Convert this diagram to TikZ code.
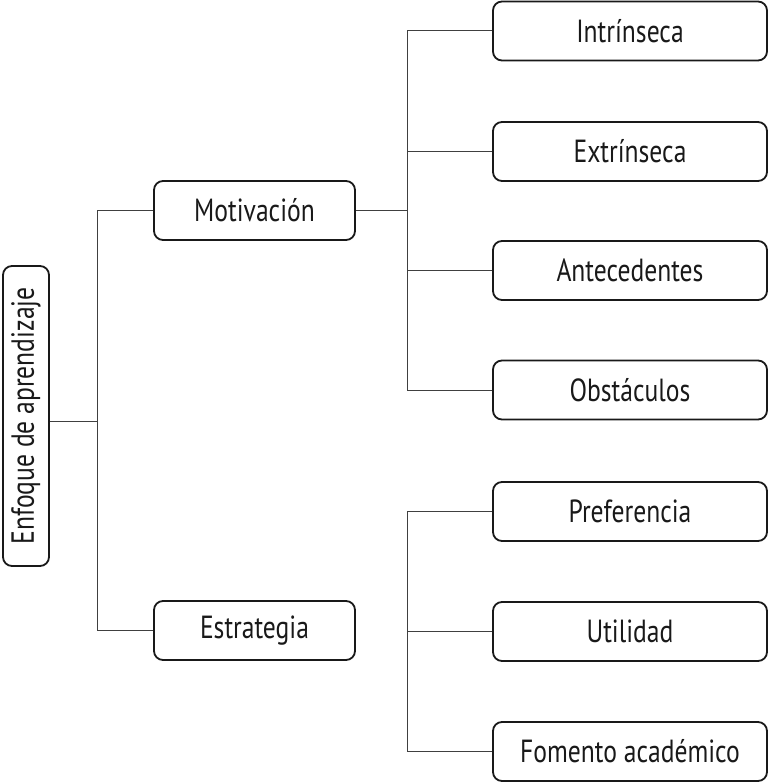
\documentclass[tikz,border=0pt]{standalone}
\usepackage{fontspec}
\setmainfont[FakeStretch=0.8]{PT Sans}
\begin{document}
\begin{tikzpicture}[x=1pt,y=-1pt,
  box/.style={draw=black!90, line width=1.8pt, rounded corners=9pt, inner sep=0pt, font=\fontsize{32}{34}\selectfont, text=black!90},
  sbox/.style={box, minimum width=201, minimum height=59},
  rbox/.style={box, minimum width=274, minimum height=59},
  conn/.style={draw=black!75, line width=1pt}]
\useasboundingbox (0,0) rectangle (769,783);
\node[box, minimum width=46, minimum height=300] (root) at (26,416) {\rotatebox{90}{Enfoque de aprendizaje}};
\node[sbox] (mot) at (254.5,210.5) {Motivación};
\node[sbox] (est) at (254.5,630.5) {Estrategia};
\node[rbox] (i1) at (630,31) {Intrínseca};
\node[rbox] (i2) at (630,151.5) {Extrínseca};
\node[rbox] (i3) at (630,270.5) {Antecedentes};
\node[rbox] (i4) at (630,390) {Obstáculos};
\node[rbox] (p1) at (630,511.5) {Preferencia};
\node[rbox] (p2) at (630,631.5) {Utilidad};
\node[rbox] (p3) at (630,751.5) {Fomento académico};
\coordinate (j1) at (97,421);
\coordinate (j2) at (407,210.5);
\coordinate (j3) at (407,631.5);
\draw[conn] ([yshift=-5]root.east) -- (j1);
\draw[conn] (j1) |- (mot.west);
\draw[conn] (j1) |- (est.west);
\draw[conn] (mot.east) -- (j2);
\draw[conn] (j2) |- (i1.west);
\draw[conn] (j2) |- (i2.west);
\draw[conn] (j2) |- (i3.west);
\draw[conn] (j2) |- (i4.west);
\draw[conn] (j3) |- (p1.west);
\draw[conn] (j3) |- (p2.west);
\draw[conn] (j3) |- (p3.west);
\end{tikzpicture}
\end{document}
